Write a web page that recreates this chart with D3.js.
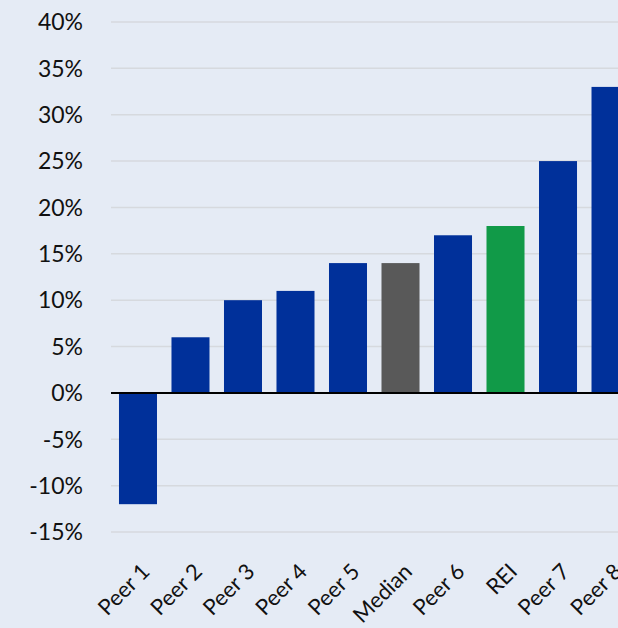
<!DOCTYPE html>
<html>
<head>
<meta charset="utf-8">
<script src="https://cdn.jsdelivr.net/npm/d3@7"></script>
<style>
  html, body { margin: 0; padding: 0; background: #E5EBF5; overflow: hidden; }
  text { font-family: "Lato", "Open Sans", sans-serif; }
</style>
</head>
<body>
<div id="chart"></div>
<script>
// datos
var categories = ["Peer 1", "Peer 2", "Peer 3", "Peer 4", "Peer 5", "Median", "Peer 6", "REI", "Peer 7", "Peer 8"];
var values = [-12, 6, 10, 11, 14, 14, 17, 18, 25, 33];
var barColors = ["#00309A", "#00309A", "#00309A", "#00309A", "#00309A", "#595959", "#00309A", "#119A48", "#00309A", "#00309A"];
var yTicks = [40, 35, 30, 25, 20, 15, 10, 5, 0, -5, -10, -15];

var width = 618, height = 628;

var svg = d3.select("#chart").append("svg")
    .attr("width", width)
    .attr("height", height);

svg.append("rect")
    .attr("width", width)
    .attr("height", height)
    .attr("fill", "#E5EBF5");

var x = d3.scaleBand()
    .domain(categories)
    .range([111, 637.5])
    .paddingInner(0.276)
    .paddingOuter(0.152);

var y = d3.scaleLinear()
    .domain([-15, 40])
    .range([532, 22]);

// lineas de cuadricula
svg.selectAll(".grid")
    .data(yTicks.filter(d => d !== 0))
    .enter().append("line")
    .attr("class", "grid")
    .attr("x1", 111)
    .attr("x2", width)
    .attr("y1", d => y(d))
    .attr("y2", d => y(d))
    .attr("stroke", "#D6D9DE")
    .attr("stroke-width", 1.5);

// etiquetas del eje y
svg.selectAll(".ylab")
    .data(yTicks)
    .enter().append("text")
    .attr("class", "ylab")
    .attr("x", 83)
    .attr("y", d => y(d))
    .attr("dy", "0.36em")
    .attr("text-anchor", "end")
    .attr("font-size", 23)
    .attr("fill", "#111")
    .text(d => d + "%");

// barras
svg.selectAll(".bar")
    .data(values)
    .enter().append("rect")
    .attr("class", "bar")
    .attr("x", (d, i) => x(categories[i]))
    .attr("y", d => y(Math.max(0, d)))
    .attr("width", x.bandwidth())
    .attr("height", d => Math.abs(y(d) - y(0)))
    .attr("fill", (d, i) => barColors[i]);

// linea cero
svg.append("line")
    .attr("x1", 111)
    .attr("x2", width)
    .attr("y1", y(0))
    .attr("y2", y(0))
    .attr("stroke", "#000")
    .attr("stroke-width", 2);

// etiquetas del eje x rotadas
svg.selectAll(".xlab")
    .data(categories)
    .enter().append("text")
    .attr("class", "xlab")
    .attr("text-anchor", "end")
    .attr("font-size", 22)
    .attr("fill", "#111")
    .attr("transform", d => "translate(" + (x(d) + x.bandwidth() / 2 + 13) + ",573) rotate(-45)")
    .text(d => d);
</script>
</body>
</html>
